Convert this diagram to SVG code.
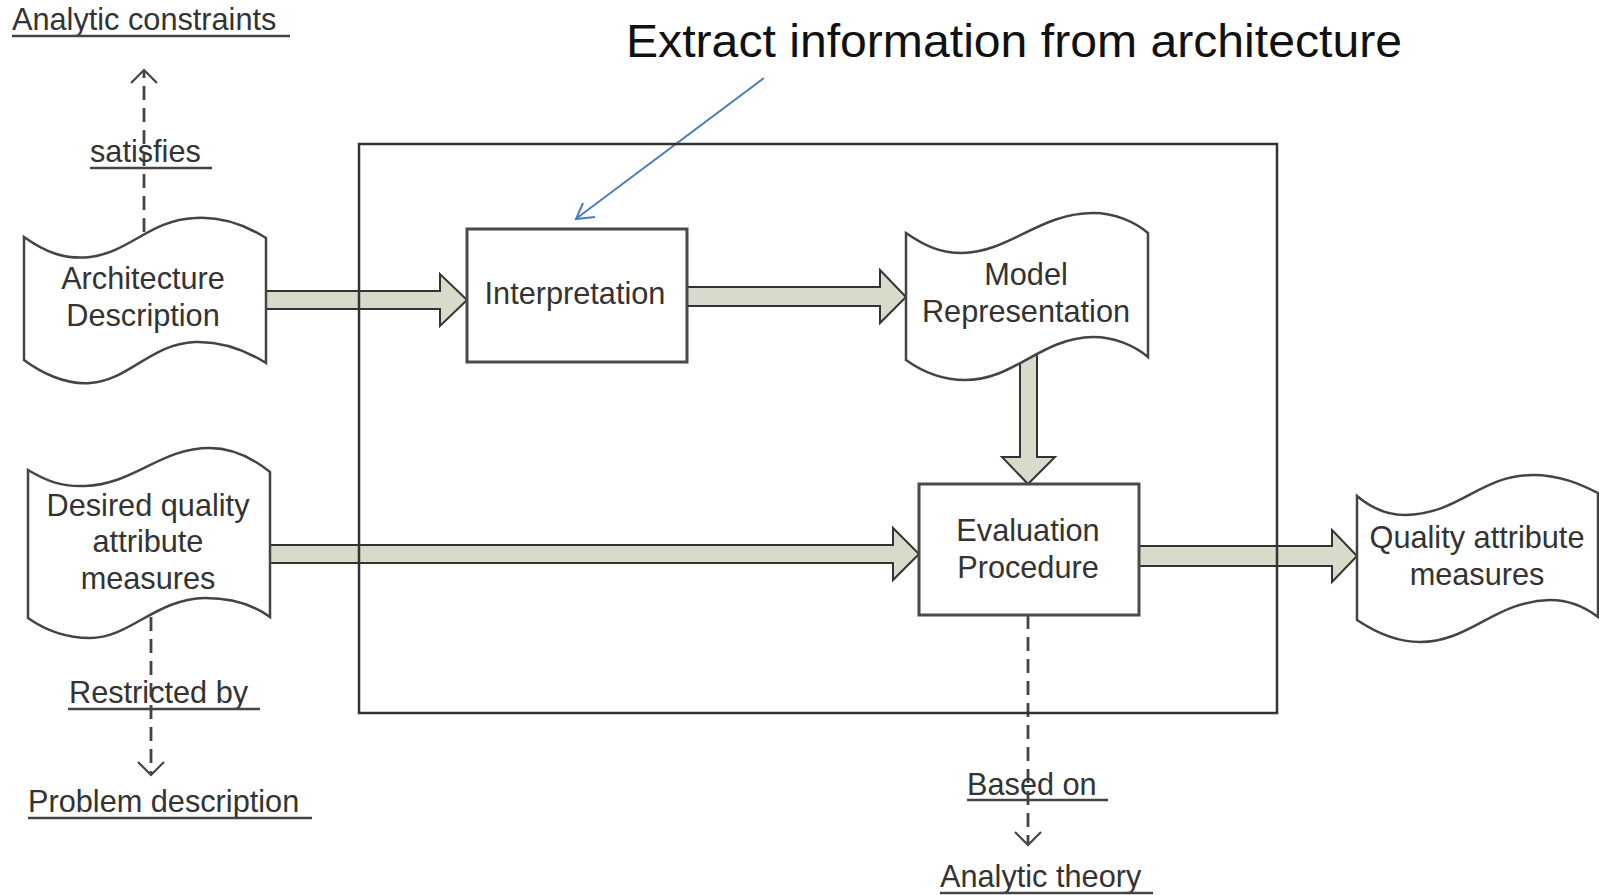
<svg xmlns="http://www.w3.org/2000/svg" width="1599" height="895" viewBox="0 0 1599 895">
<defs>
<style>
.lbl{font-family:"Liberation Sans",Arial,sans-serif;font-size:30.7px;fill:#333}
.ctr{text-anchor:middle}
.ul{stroke:#444;stroke-width:2.5}
.shape{fill:#fff;stroke:#444;stroke-width:2.5}
.box{fill:#fff;stroke:#4a4a4a;stroke-width:3}
.blk{fill:#d9dac9;stroke:#333;stroke-width:2;stroke-linejoin:miter}
.dash{fill:none;stroke:#444;stroke-width:2.8;stroke-dasharray:14 8}
.head{fill:none;stroke:#444;stroke-width:2.2}
</style>
</defs>
<rect width="1599" height="895" fill="#fff"/>

<g id="title">
<text x="626" y="57" font-family="Liberation Sans, Arial, sans-serif" font-size="46" fill="#111" textLength="776" lengthAdjust="spacingAndGlyphs">Extract information from architecture</text>
</g>

<g id="connectors">
<polygon class="blk" points="266,291 440,291 440,274 467,300 440,326 440,309 266,309"/>
<polygon class="blk" points="687,287 880,287 880,270 906,297 880,323 880,306 687,306"/>
<polygon class="blk" points="1020,350 1037,350 1037,457 1055,457 1028,484 1002,457 1020,457"/>
<polygon class="blk" points="270,545 893,545 893,528 919,554 893,580 893,563 270,563"/>
<polygon class="blk" points="1139,546 1332,546 1332,530 1357,556 1332,582 1332,566 1139,566"/>
<line class="dash" x1="144" y1="232" x2="144" y2="72"/>
<polyline class="head" points="131,83 144,70 157,83"/>
<line class="dash" x1="151" y1="617" x2="151" y2="773"/>
<polyline class="head" points="138,762 151,775 164,762"/>
<line class="dash" x1="1028" y1="615" x2="1028" y2="843"/>
<polyline class="head" points="1015,832 1028,845 1041,832"/>
<line x1="764" y1="78" x2="577" y2="218" stroke="#4a7ebb" stroke-width="2"/>
<polyline points="583,203 576,219 595,217" fill="none" stroke="#4a7ebb" stroke-width="2"/>
</g>

<g id="frame">
<rect x="359" y="144" width="918" height="569" fill="none" stroke="#333" stroke-width="2.5"/>
</g>

<g id="architecture-description">
<path class="shape" d="M24,237 C45,252 65,260 90,257 C130,252 150,220 195,218 C225,216 250,228 266,238 L266,363 C250,353 225,341 195,342 C150,344 130,380 90,383 C65,385 40,372 24,360 Z"/>
<text class="lbl ctr" x="143" y="289">Architecture</text>
<text class="lbl ctr" x="143" y="326">Description</text>
</g>

<g id="interpretation">
<rect class="box" x="467" y="229" width="220" height="133"/>
<text class="lbl ctr" x="575" y="304">Interpretation</text>
</g>

<g id="model-representation">
<path class="shape" d="M906,233 C925,246 940,253 962,253 C1010,252 1040,213 1093,213 C1115,213 1135,222 1148,233 L1148,357 C1135,346 1115,337 1093,337 C1040,338 1015,380 965,380 C940,380 920,370 906,360 Z"/>
<text class="lbl ctr" x="1026" y="285">Model</text>
<text class="lbl ctr" x="1026" y="322">Representation</text>
</g>

<g id="evaluation-procedure">
<rect class="box" x="919" y="484" width="220" height="131"/>
<text class="lbl ctr" x="1028" y="541">Evaluation</text>
<text class="lbl ctr" x="1028" y="578">Procedure</text>
</g>

<g id="desired-quality">
<path class="shape" d="M28,470 C45,480 60,487 85,486 C135,484 160,448 210,448 C235,448 255,460 270,472 L270,617 C255,606 235,598 205,598 C155,599 130,638 90,638 C65,638 45,630 28,618 Z"/>
<text class="lbl ctr" x="148" y="516">Desired quality</text>
<text class="lbl ctr" x="148" y="552">attribute</text>
<text class="lbl ctr" x="148" y="589">measures</text>
</g>

<g id="quality-measures">
<path class="shape" d="M1357,496 C1370,507 1385,515 1405,515 C1460,514 1480,475 1533,475 C1560,475 1580,484 1598,493 L1598,617 C1585,607 1570,600 1550,600 C1495,601 1470,642 1420,642 C1395,642 1375,632 1357,620 Z"/>
<text class="lbl ctr" x="1477" y="548">Quality attribute</text>
<text class="lbl ctr" x="1477" y="585">measures</text>
</g>

<g id="analytic-constraints">
<text class="lbl" x="12" y="30">Analytic constraints</text>
<line class="ul" x1="12" y1="36" x2="290" y2="36"/>
</g>
<g id="satisfies">
<text class="lbl" x="90" y="162">satisfies</text>
<line class="ul" x1="90" y1="168" x2="212" y2="168"/>
</g>
<g id="restricted-by">
<text class="lbl" x="69" y="703">Restricted by</text>
<line class="ul" x1="68" y1="709" x2="260" y2="709"/>
</g>
<g id="problem-description">
<text class="lbl" x="28" y="812">Problem description</text>
<line class="ul" x1="28" y1="818" x2="312" y2="818"/>
</g>
<g id="based-on">
<text class="lbl" x="967" y="795">Based on</text>
<line class="ul" x1="967" y1="800" x2="1108" y2="800"/>
</g>
<g id="analytic-theory">
<text class="lbl" x="940" y="887">Analytic theory</text>
<line class="ul" x1="940" y1="893" x2="1153" y2="893"/>
</g>
</svg>
